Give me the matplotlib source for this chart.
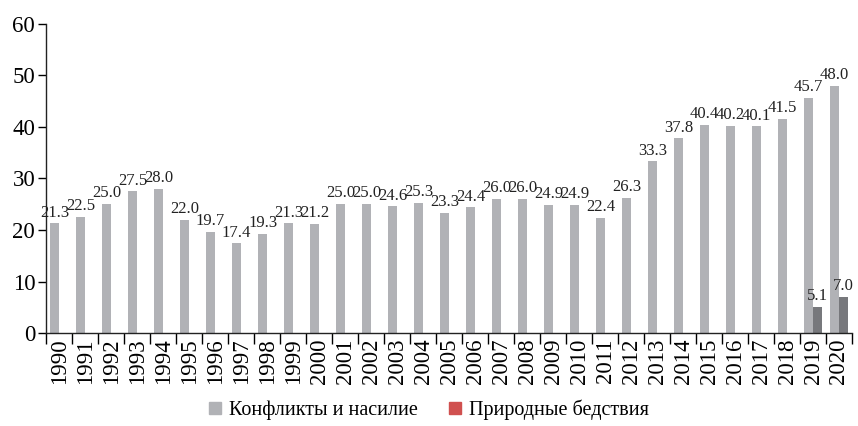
import numpy as np
import matplotlib
matplotlib.use('Agg')
import matplotlib.pyplot as plt
from matplotlib.patches import Patch

plt.rcParams['font.family'] = ['Liberation Serif', 'DejaVu Serif']

years = list(range(1990, 2021))
conflicts = [21.3, 22.5, 25.0, 27.5, 28.0, 22.0, 19.7, 17.4, 19.3, 21.3,
             21.2, 25.0, 25.0, 24.6, 25.3, 23.3, 24.4, 26.0, 26.0, 24.9,
             24.9, 22.4, 26.3, 33.3, 37.8, 40.4, 40.2, 40.1, 41.5, 45.7, 48.0]
disaster_years = [2019, 2020]
disasters = [5.1, 7.0]

grey_light = '#b1b2b6'
grey_dark = '#77787c'
legend_red = '#d0504f'

fig = plt.figure(figsize=(8.58, 4.26), dpi=100)
ax = fig.add_axes([0.054, 0.218, 0.939, 0.726])

x = np.arange(len(years))
w = 0.37
ax.bar(x - 0.18, conflicts, width=w, color=grey_light)
dx = np.array([years.index(y) for y in disaster_years])
ax.bar(dx + 0.18, disasters, width=w, color=grey_dark)

for xi, v in zip(x, conflicts):
    ax.annotate(f'{v:.1f}', (xi - 0.18, v), xytext=(0, 2), textcoords='offset points',
                ha='center', va='bottom', fontsize=12, color='#222222')
for xi, v in zip(dx, disasters):
    ax.annotate(f'{v:.1f}', (xi + 0.18, v), xytext=(0, 2), textcoords='offset points',
                ha='center', va='bottom', fontsize=12, color='#222222')

ax.set_xlim(-0.5, len(years) - 0.5)
ax.set_ylim(0, 60)
ax.set_yticks(range(0, 61, 10))
ax.set_xticks(x)
ax.set_xticklabels([str(y) for y in years], rotation=90, fontsize=16.5)
ax.set_xticks(np.arange(-0.5, len(years), 1), minor=True)
ax.tick_params(axis='x', which='major', length=0, pad=4)
ax.tick_params(axis='x', which='minor', length=8, width=1, direction='out')
ax.tick_params(axis='y', labelsize=16.5, length=6, width=1, pad=2)

for s in ['top', 'right']:
    ax.spines[s].set_visible(False)
for s in ['left', 'bottom']:
    ax.spines[s].set_linewidth(1)
    ax.spines[s].set_color('#222222')

handles = [Patch(color=grey_light, label='Конфликты и насилие'),
           Patch(color=legend_red, label='Природные бедствия')]
fig.legend(handles=handles, loc='center', bbox_to_anchor=(0.5, 0.038), ncol=2,
           frameon=False, fontsize=14.5, handlelength=0.6, handleheight=0.6,
           handletextpad=0.4, columnspacing=1.5)

fig.savefig('out.png', dpi=100)
